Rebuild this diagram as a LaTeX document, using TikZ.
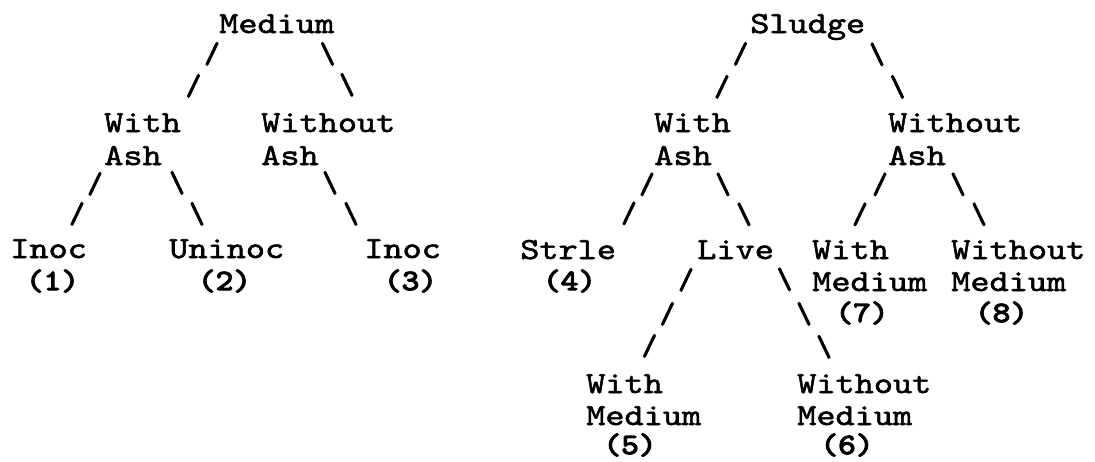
\documentclass[tikz,border=0pt]{standalone}
\usepackage{fontspec}
\newfontfamily\twr[FakeBold=1.8,FakeStretch=1.19]{lmmono10-regular.otf}
\newfontfamily\twb[FakeBold=4,FakeStretch=1.15]{lmmono10-regular.otf}
\newfontfamily\tws[FakeBold=3.5]{lmmono10-regular.otf}
\begin{document}
\begin{tikzpicture}[x=0.75pt,y=-0.75pt,
  lbl/.style={inner sep=0pt,anchor=base west,font=\twr\fontsize{23}{23}\selectfont},
  num/.style={inner sep=0pt,anchor=base,font=\twb\fontsize{22}{22}\selectfont},
  sl/.style={inner sep=0pt,anchor=center,text height=0.75em,text depth=0.25em,font=\tws\fontsize{22}{22}\selectfont}]
\useasboundingbox[fill=white] (0,0) rectangle (1095,461);
% ---- left tree
\node[lbl] (medium) at (219,33) {Medium};
\node[lbl] (lwith) at (104,132) {With};
\node[lbl] (lwithash) at (104,165) {Ash};
\node[lbl] (lwithout) at (261,132) {Without};
\node[lbl] (lwithoutash) at (261,165) {Ash};
\node[lbl] (inoc1) at (10,258) {Inoc};
\node[num] (n1) at (52.5,290) {(1)};
\node[lbl] (uninoc) at (169,258) {Uninoc};
\node[num] (n2) at (224.5,290) {(2)};
\node[lbl] (inoc3) at (364,258) {Inoc};
\node[num] (n3) at (410.5,290) {(3)};
% slashes left
\node[sl] (s1a) at (212,59.5) {/};
\node[sl] (s1b) at (193.5,91.5) {/};
\node[sl] (s2a) at (327.5,59.5) {\textbackslash};
\node[sl] (s2b) at (347,90.5) {\textbackslash};
\node[sl] (s3a) at (95,189.5) {/};
\node[sl] (s3b) at (77,219.5) {/};
\node[sl] (s4a) at (177,188.5) {\textbackslash};
\node[sl] (s4b) at (197,219.5) {\textbackslash};
\node[sl] (s5a) at (330,188.5) {\textbackslash};
\node[sl] (s5b) at (351,219.5) {\textbackslash};
% ---- right tree
\node[lbl] (sludge) at (750,33) {Sludge};
\node[lbl] (rwith) at (654,132) {With};
\node[lbl] (rwithash) at (654,165) {Ash};
\node[lbl] (rwithout) at (888,132) {Without};
\node[lbl] (rwithoutash) at (888,165) {Ash};
\node[lbl] (strle) at (520,259) {Strle};
\node[num] (n4) at (569.5,290) {(4)};
\node[lbl] (live) at (697,259) {Live};
\node[lbl] (with7) at (812,259) {With};
\node[lbl] (med7) at (812,291) {Medium};
\node[num] (n7) at (862,322) {(7)};
\node[lbl] (without8) at (951,259) {Without};
\node[lbl] (med8) at (951,291) {Medium};
\node[num] (n8) at (1001.5,322) {(8)};
\node[lbl] (with5) at (586,393) {With};
\node[lbl] (med5) at (586,425) {Medium};
\node[num] (n5) at (630,454) {(5)};
\node[lbl] (without6) at (797,393) {Without};
\node[lbl] (med6) at (797,425) {Medium};
\node[num] (n6) at (847,454) {(6)};
% slashes right
\node[sl] (r1a) at (740.5,59.5) {/};
\node[sl] (r1b) at (722,92.5) {/};
\node[sl] (r2a) at (877,60) {\textbackslash};
\node[sl] (r2b) at (897.5,92.5) {\textbackslash};
\node[sl] (r3a) at (647,190) {/};
\node[sl] (r3b) at (629,219) {/};
\node[sl] (r4a) at (723,190) {\textbackslash};
\node[sl] (r4b) at (744,220) {\textbackslash};
\node[sl] (r5a) at (880,190) {/};
\node[sl] (r5b) at (860,220) {/};
\node[sl] (r6a) at (958,190) {\textbackslash};
\node[sl] (r6b) at (979,220) {\textbackslash};
\node[sl] (r7a) at (686,285.5) {/};
\node[sl] (r7b) at (667.5,319.5) {/};
\node[sl] (r7c) at (649.5,351.5) {/};
\node[sl] (r8a) at (784.5,285) {\textbackslash};
\node[sl] (r8b) at (804,319.5) {\textbackslash};
\node[sl] (r8c) at (824,352.5) {\textbackslash};
\end{tikzpicture}
\end{document}
